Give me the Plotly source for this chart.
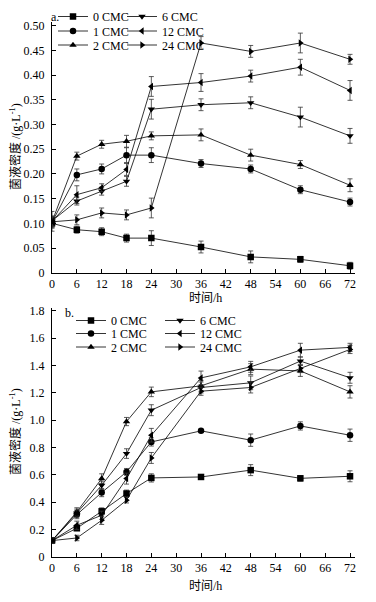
import plotly.graph_objects as go

hours = [0, 6, 12, 18, 24, 36, 48, 60, 72]
names = ["0 CMC", "1 CMC", "2 CMC", "6 CMC", "12 CMC", "24 CMC"]
symbols = ["square", "circle", "triangle-up", "triangle-down", "triangle-left", "triangle-right"]

# Panel a
a_0 = [0.100, 0.087, 0.083, 0.070, 0.070, 0.052, 0.032, 0.027, 0.014]
a_1 = [0.102, 0.198, 0.210, 0.238, 0.238, 0.221, 0.210, 0.168, 0.143]
a_2 = [0.103, 0.236, 0.260, 0.266, 0.277, 0.279, 0.238, 0.219, 0.177]
a_6 = [0.105, 0.145, 0.165, 0.185, 0.331, 0.340, 0.344, 0.315, 0.277]
a_12 = [0.104, 0.158, 0.172, 0.209, 0.377, 0.385, 0.398, 0.416, 0.369]
a_24 = [0.103, 0.107, 0.121, 0.117, 0.131, 0.465, 0.448, 0.465, 0.432]
a_err0 = [0.010, 0.007, 0.008, 0.008, 0.015, 0.012, 0.012, 0.006, 0.007]
a_err1 = [0.010, 0.012, 0.010, 0.015, 0.015, 0.008, 0.008, 0.008, 0.008]
a_err2 = [0.010, 0.008, 0.008, 0.012, 0.008, 0.012, 0.012, 0.008, 0.013]
a_err6 = [0.010, 0.008, 0.008, 0.010, 0.020, 0.012, 0.012, 0.020, 0.015]
a_err12 = [0.020, 0.018, 0.008, 0.012, 0.020, 0.018, 0.012, 0.016, 0.020]
a_err24 = [0.010, 0.010, 0.010, 0.010, 0.020, 0.013, 0.012, 0.020, 0.010]

# Panel b
b_0 = [0.12, 0.21, 0.334, 0.464, 0.578, 0.585, 0.635, 0.575, 0.590]
b_1 = [0.12, 0.31, 0.471, 0.622, 0.841, 0.922, 0.854, 0.958, 0.890]
b_2 = [0.12, 0.33, 0.573, 0.990, 1.207, 1.251, 1.373, 1.360, 1.207]
b_6 = [0.12, 0.32, 0.524, 0.756, 1.073, 1.239, 1.273, 1.432, 1.310]
b_12 = [0.12, 0.232, 0.305, 0.573, 0.890, 1.309, 1.390, 1.512, 1.532]
b_24 = [0.12, 0.139, 0.268, 0.415, 0.724, 1.212, 1.239, 1.378, 1.517]
b_err0 = [0.02, 0.015, 0.025, 0.025, 0.030, 0.012, 0.040, 0.020, 0.040]
b_err1 = [0.02, 0.030, 0.030, 0.025, 0.030, 0.010, 0.045, 0.030, 0.045]
b_err2 = [0.02, 0.030, 0.035, 0.030, 0.035, 0.040, 0.040, 0.040, 0.045]
b_err6 = [0.02, 0.030, 0.030, 0.035, 0.040, 0.040, 0.050, 0.030, 0.040]
b_err12 = [0.02, 0.030, 0.030, 0.040, 0.050, 0.050, 0.040, 0.050, 0.030]
b_err24 = [0.02, 0.020, 0.030, 0.020, 0.040, 0.030, 0.040, 0.030, 0.030]

a_series = [a_0, a_1, a_2, a_6, a_12, a_24]
a_errs = [a_err0, a_err1, a_err2, a_err6, a_err12, a_err24]
b_series = [b_0, b_1, b_2, b_6, b_12, b_24]
b_errs = [b_err0, b_err1, b_err2, b_err6, b_err12, b_err24]

x_ticks = [0, 6, 12, 18, 24, 30, 36, 42, 48, 54, 60, 66, 72]
a_yticks = [0, 0.05, 0.10, 0.15, 0.20, 0.25, 0.30, 0.35, 0.40, 0.45, 0.50]
a_ytext = ["0", "0.05", "0.10", "0.15", "0.20", "0.25", "0.30", "0.35", "0.40", "0.45", "0.50"]
b_yticks = [0, 0.2, 0.4, 0.6, 0.8, 1.0, 1.2, 1.4, 1.6, 1.8]
b_ytext = ["0", "0.2", "0.4", "0.6", "0.8", "1.0", "1.2", "1.4", "1.6", "1.8"]

FONT = "Liberation Serif, Times New Roman, Noto Sans CJK SC, serif"

# The page body has an 8px default margin; lay out in window pixels.
OFF = 8
W, H = 360, 586
LEFT, RIGHT, TOP, BOTTOM = 52, 355, 22, 557  # plot area in window pixels
ML = LEFT - OFF
MT = TOP - OFF
MR = W - (RIGHT - OFF)
MB = H - (BOTTOM - OFF)
PW = RIGHT - LEFT
PH = BOTTOM - TOP


def px_x(p):
    return (p - LEFT) / PW


def px_y(p):
    return (BOTTOM - p) / PH


fig = go.Figure()

# legend layout: column origin px, row y px (window pixels)
a_cols = [53, 122]
a_rows = [16.5, 31, 45]
b_cols = [71, 160]
b_rows = [320.5, 333.5, 347]

legends = {}
idx = 0
for series, errs, cols, rows, xa, ya in [
    (a_series, a_errs, a_cols, a_rows, "x", "y"),
    (b_series, b_errs, b_cols, b_rows, "x2", "y2"),
]:
    for i, (nm, sym, ys, es) in enumerate(zip(names, symbols, series, errs)):
        idx += 1
        lname = "legend" if idx == 1 else f"legend{idx}"
        col = i // 3
        row = i % 3
        legends[lname] = dict(
            x=px_x(cols[col]), y=px_y(rows[row]), xanchor="left", yanchor="middle",
            bgcolor="rgba(0,0,0,0)", borderwidth=0, itemwidth=30,
            font=dict(family=FONT, size=12, color="black"),
            tracegroupgap=0,
        )
        fig.add_trace(go.Scatter(
            x=hours, y=ys, name=nm, mode="lines+markers",
            xaxis=xa, yaxis=ya, legend=lname,
            line=dict(color="black", width=0.8),
            marker=dict(symbol=sym, size=6.5, color="black"),
            error_y=dict(type="data", array=es, visible=True, color="#333333",
                         thickness=0.8, width=2.5),
        ))

axis_common = dict(
    showline=True, linecolor="black", linewidth=1, showgrid=False, zeroline=False,
    ticks="inside", ticklen=4, tickcolor="black", tickwidth=1,
    tickfont=dict(family=FONT, size=12, color="black"),
)

layout = dict(
    width=W, height=H,
    margin=dict(l=ML, r=MR, t=MT, b=MB, autoexpand=False),
    paper_bgcolor="white", plot_bgcolor="white",
    font=dict(family=FONT, size=12, color="black"),
    xaxis=dict(domain=[0, 1], anchor="y", range=[0, 73.2], tickvals=x_ticks, **axis_common),
    yaxis=dict(domain=[px_y(272.7), 1], anchor="x", range=[0, 0.5075],
               tickvals=a_yticks, ticktext=a_ytext, ticklabelstandoff=4, **axis_common),
    xaxis2=dict(domain=[0, 1], anchor="y2", range=[0, 73.2], tickvals=x_ticks, **axis_common),
    yaxis2=dict(domain=[0, px_y(308)], anchor="x2", range=[0, 1.82],
                tickvals=b_yticks, ticktext=b_ytext, ticklabelstandoff=4, **axis_common),
    showlegend=True,
)
layout.update(legends)
fig.update_layout(**layout)

ytitle = "菌液密度 /(g·L<sup>-1</sup>)"
ann = [
    dict(text=ytitle, x=px_x(15), y=px_y(147), textangle=-90, yanchor="middle"),
    dict(text=ytitle, x=px_x(15), y=px_y(432), textangle=-90, yanchor="middle"),
    dict(text="时间/h", x=px_x(205), y=px_y(298), yanchor="middle"),
    dict(text="时间/h", x=px_x(205), y=px_y(586), yanchor="middle"),
    dict(text="a.", x=px_x(55), y=px_y(8.5), yanchor="top"),
    dict(text="b.", x=px_x(69), y=px_y(313), yanchor="middle"),
]
for a in ann:
    fig.add_annotation(xref="paper", yref="paper", showarrow=False,
                       xanchor="center",
                       font=dict(family=FONT, size=12, color="black"), **a)

fig.write_html("out.html")
